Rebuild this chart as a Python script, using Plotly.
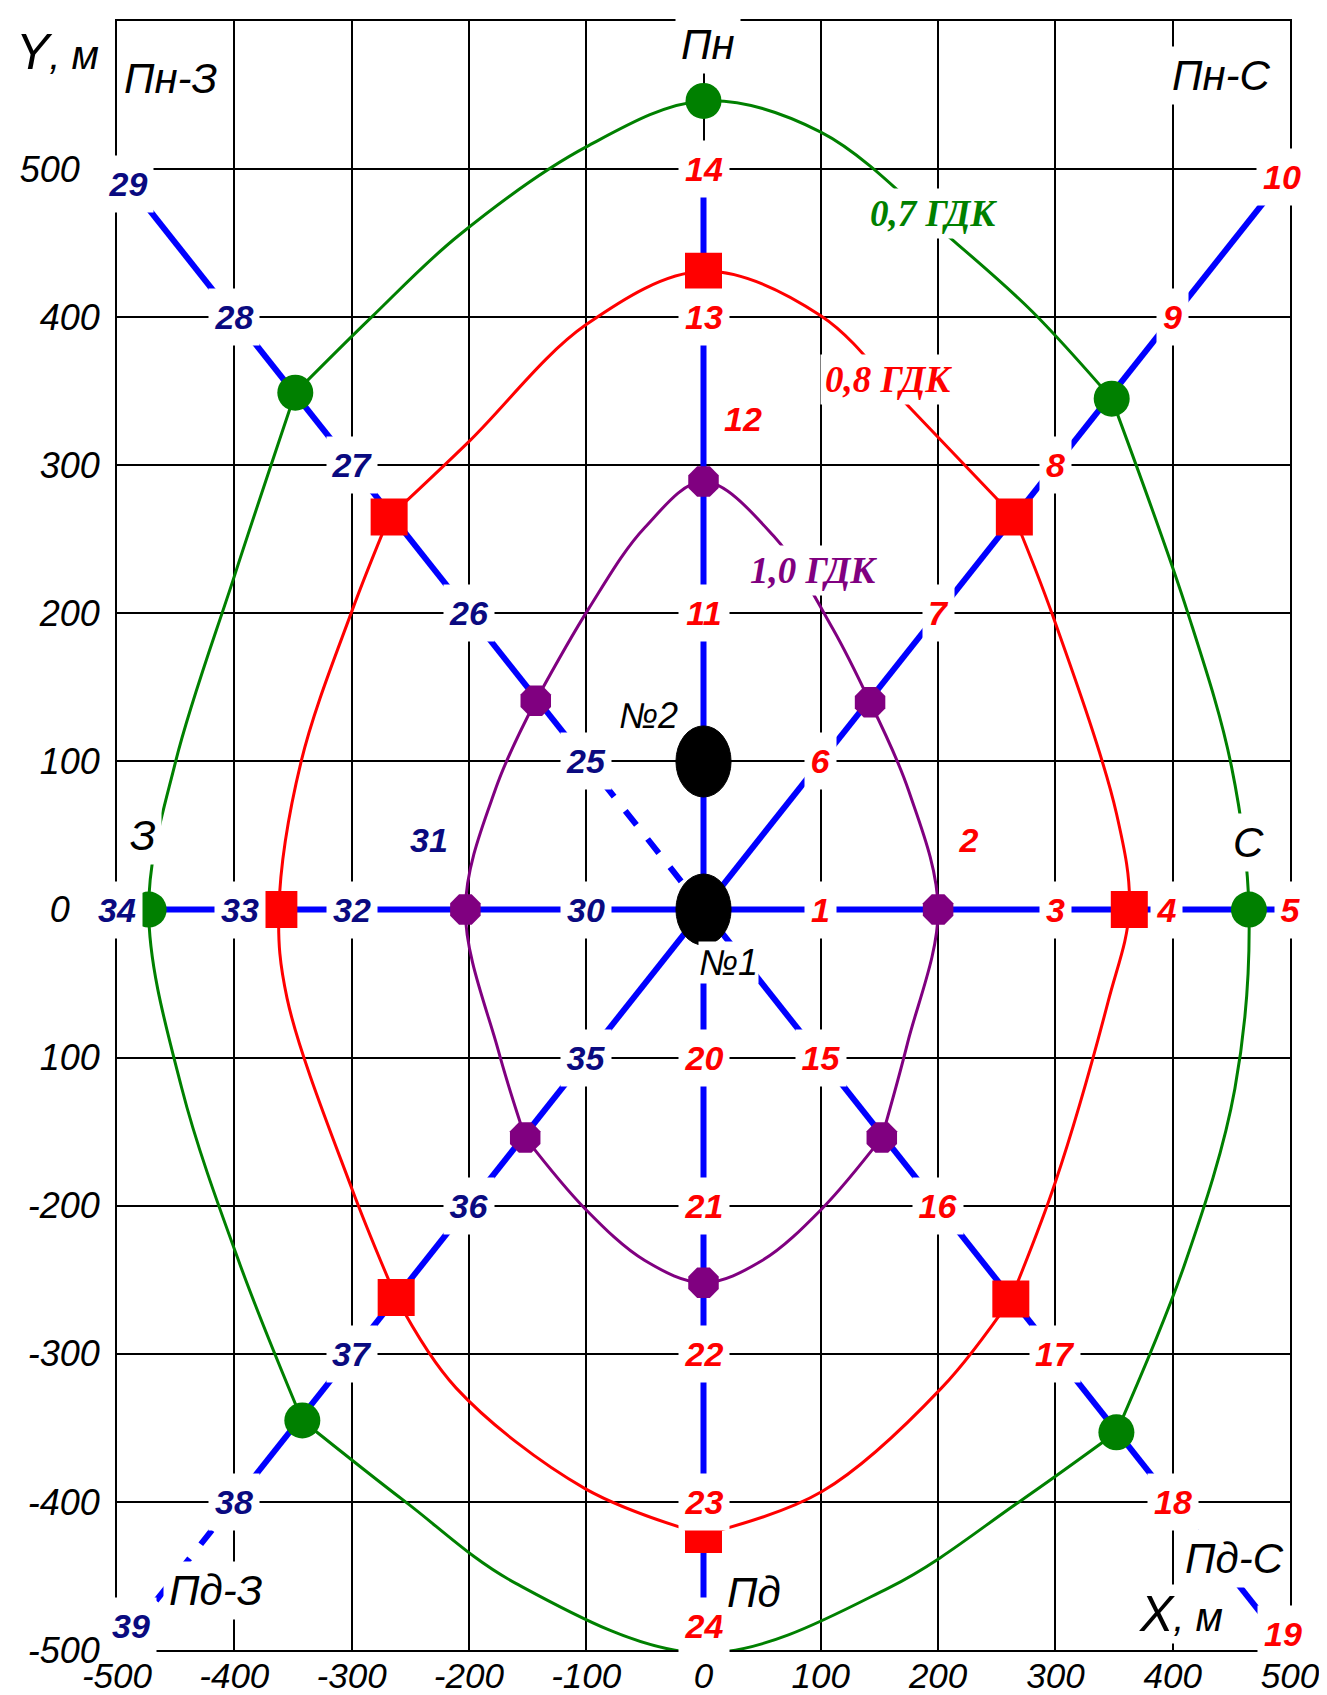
import plotly.graph_objects as go

# ---------------- data ----------------
x_ticks = [-500, -400, -300, -200, -100, 0, 100, 200, 300, 400, 500]
x_tick_text = ["-500", "-400", "-300", "-200", "-100", "0", "100", "200", "300", "400", "500"]
y_ticks = [-500, -400, -300, -200, -100, 0, 100, 200, 300, 400, 500]
y_tick_text = ["-500", "-400", "-300", "-200", "100", "0\u00a0\u00a0\u00a0", "100", "200", "300", "400", "500\u00a0\u00a0"]

# sampling rays from well No1 (direction, numbered points, offset of points)
ray_dir_x = [1, 1, 0, 1, 0, -1, -1, -1]
ray_dir_y = [0, 1, 1, -1, -1, 1, 0, -1]
ray_length = [500, 500, 500, 500, 500, 500, 500, 500]
ray_numbers = [[1, 2, 3, 4, 5], [6, 7, 8, 9, 10], [11, 12, 13, 14], [15, 16, 17, 18, 19],
               [20, 21, 22, 23, 24], [25, 26, 27, 28, 29], [30, 31, 32, 33, 34], [35, 36, 37, 38, 39]]
ray_dists = [[100, 200, 300, 400, 500], [100, 200, 300, 400, 500], [200, 300, 400, 500],
             [100, 200, 300, 400, 500], [100, 200, 300, 400, 500], [100, 200, 300, 400, 500],
             [100, 200, 300, 400, 500], [100, 200, 300, 400, 500]]
# dashed pieces of rays: (ray index, from, to)
ray_dashed = [(5, 0, 100), (7, 400, 500)]
# label displacement from its point (data units)
label_shift = {2: (26, 47), 12: (34, 31), 31: (-34, 47), 10: (-7, -5), 19: (-6, 11),
               29: (9, -10), 39: (12, 16), 24: (0, 16), 4: (-5, 0), 33: (5, 0)}

# wells
well_x = [0, 0]
well_y = [0, 100]
well_names = ["№1", "№2"]
well_label_x = [21, -47]
well_label_y = [-36, 131]

# isolines: marker points (on rays)
green_x = [0, 348, 465, 352, 0, -342, -473, -348]
green_y = [546, 345, 0, -353, -502, -345, 0, 349]
red_x = [0, 265, 363, 262, 0, -262, -362, -268]
red_y = [431, 265, 0, -263, -422, -262, 0, 265]
purple_x = [0, 142, 200, 152, 0, -152, -203, -143]
purple_y = [289, 140, 0, -154, -252, -154, 0, 141]

# isolines, as arcs between markers
green_arcs = [
    [(-348, 349), (-283, 400), (-209, 455), (-100, 515), (0, 546), (100, 525), (211, 453), (280, 404), (348, 345)],
    [(348, 345), (413, 200), (450, 97), (465, 0), (453, -121), (410, -240), (352, -353)],
    [(352, -353), (269, -400), (158, -458), (0, -502), (-160, -455), (-254, -400), (-342, -345)],
    [(-342, -345), (-395, -240), (-445, -120), (-473, 0), (-450, 100), (-400, 225), (-348, 349)],
]
red_arcs = [
    [(-268, 265), (-200, 316), (-100, 395), (0, 431), (100, 401), (177, 338), (265, 265)],
    [(265, 265), (297, 200), (352, 65), (363, 0), (345, -62), (300, -184), (262, -263)],
    [(262, -263), (203, -323), (101, -393), (0, -422)],
    [(0, -422), (-101, -391), (-211, -323), (-262, -262)],
    [(-262, -262), (-300, -188), (-355, -60), (-362, 0), (-343, 100), (-300, 201), (-268, 265)],
]
purple_arcs = [
    [(-143, 141), (-98, 203), (-50, 258), (0, 289), (60, 252), (110, 190), (142, 140)],
    [(142, 140), (175, 80), (200, 0), (174, -90), (152, -154)],
    [(152, -154), (101, -202), (50, -237), (0, -252), (-50, -237), (-101, -202), (-152, -154)],
    [(-152, -154), (-175, -95), (-203, 0), (-177, 82), (-143, 141)],
]

curve_labels = ["0,7 ГДК", "0,8 ГДК", "1,0 ГДК"]
curve_label_x = [196, 158, 94]
curve_label_y = [470, 358, 229]

dir_labels = ["Пн", "Пн-З", "Пн-С", "З", "С", "Пд", "Пд-З", "Пд-С"]
dir_label_x = [4, -454, 442, -478, 465, 43, -416, 453]
dir_label_y = [584, 561, 563, 50, 45, -461, -460, -438]

# ---------------- styling ----------------
BLUE = "#0000FF"
RED = "#FF0000"
NAVY = "#0A0A80"
GREEN = "#008000"
PURPLE = "#800080"
SANS = "Liberation Sans, Arial, sans-serif"
SERIF = "Liberation Serif, Times New Roman, serif"

fig = go.Figure()

# rays
for i in range(len(ray_dir_x)):
    dashed = [(a, b) for (r, a, b) in ray_dashed if r == i]
    cuts = sorted(set([0] + [v for ab in dashed for v in ab] + [ray_length[i]]))
    for a, b in zip(cuts[:-1], cuts[1:]):
        is_dash = any(a >= d0 and b <= d1 for d0, d1 in dashed)
        fig.add_trace(go.Scatter(
            x=[ray_dir_x[i] * a, ray_dir_x[i] * b], y=[ray_dir_y[i] * a, ray_dir_y[i] * b],
            mode="lines", line=dict(color=BLUE, width=6, dash="dash" if is_dash else "solid"),
            hoverinfo="skip", showlegend=False))

# isolines
for arcs, col in [(green_arcs, GREEN), (red_arcs, RED), (purple_arcs, PURPLE)]:
    for arc in arcs:
        fig.add_trace(go.Scatter(x=[p[0] for p in arc], y=[p[1] for p in arc], mode="lines",
                                 line=dict(color=col, width=3, shape="spline", smoothing=1.0),
                                 hoverinfo="skip", showlegend=False))

fig.add_trace(go.Scatter(x=green_x, y=green_y, mode="markers",
                         marker=dict(symbol="circle", size=36, color=GREEN), showlegend=False))
fig.add_trace(go.Scatter(x=red_x, y=red_y, mode="markers",
                         marker=dict(symbol="square", size=37, color=RED), showlegend=False))
fig.add_trace(go.Scatter(x=purple_x, y=purple_y, mode="markers",
                         marker=dict(symbol="octagon", size=33, color=PURPLE), showlegend=False))

# wells as ellipses in data units
WELL_RX, WELL_RY = 23.5, 24
for wx, wy in zip(well_x, well_y):
    fig.add_shape(type="circle", xref="x", yref="y", x0=wx - WELL_RX, x1=wx + WELL_RX,
                  y0=wy - WELL_RY, y1=wy + WELL_RY, fillcolor="black",
                  line=dict(color="black", width=1), layer="above")

annotations = []
# point labels
for i in range(len(ray_dir_x)):
    col = RED if i < 5 else NAVY
    for num, d in zip(ray_numbers[i], ray_dists[i]):
        sx, sy = label_shift.get(num, (0, 0))
        txt = str(num)
        annotations.append(dict(
            x=ray_dir_x[i] * d + sx, y=ray_dir_y[i] * d + sy, xref="x", yref="y", text=txt,
            showarrow=False, bgcolor="white", borderpad=3, width=19 * len(txt) + 6, height=50,
            font=dict(family=SANS, size=34, color=col, weight="bold", style="italic")))

for name, lx, ly in zip(well_names, well_label_x, well_label_y):
    annotations.append(dict(x=lx, y=ly, xref="x", yref="y", text=name, showarrow=False,
                            bgcolor="white", borderpad=0,
                            font=dict(family=SANS, size=36, color="black", style="italic")))

for txt, lx, ly, col in zip(curve_labels, curve_label_x, curve_label_y, [GREEN, RED, PURPLE]):
    annotations.append(dict(x=lx, y=ly, xref="x", yref="y", text=txt, showarrow=False,
                            bgcolor="white", borderpad=4,
                            font=dict(family=SERIF, size=37, color=col, weight="bold", style="italic")))

for txt, lx, ly in zip(dir_labels, dir_label_x, dir_label_y):
    annotations.append(dict(x=lx, y=ly, xref="x", yref="y", text=txt, showarrow=False,
                            bgcolor="white", borderpad=5,
                            font=dict(family=SANS, size=42, color="black", style="italic")))

# axis titles
annotations.append(dict(x=407, y=-476, xref="x", yref="y", showarrow=False, bgcolor="white",
                        text="<span style='font-size:50px'>X</span>, м",
                        font=dict(family=SANS, size=40, color="black", style="italic")))
annotations.append(dict(x=-0.051, y=0.981, xref="paper", yref="paper", showarrow=False,
                        xanchor="center", yanchor="middle",
                        text="<span style='font-size:50px'>Y</span>, м",
                        font=dict(family=SANS, size=40, color="black", style="italic")))

fig.update_layout(
    width=1327, height=1695,
    margin=dict(l=109, r=45, t=13, b=53),
    paper_bgcolor="white", plot_bgcolor="white",
    showlegend=False,
    annotations=annotations,
    xaxis=dict(range=[-500, 500], tickvals=x_ticks, ticktext=x_tick_text, showgrid=True,
               gridcolor="black", gridwidth=2, zeroline=False, showline=True, mirror=True,
               linecolor="black", linewidth=2, ticks="", ticklabelstandoff=-6,
               tickfont=dict(family=SANS, size=35, color="black", style="italic"),
               automargin=False, fixedrange=True),
    yaxis=dict(range=[-500, 600], tickvals=y_ticks, ticktext=y_tick_text, showgrid=True,
               gridcolor="black", gridwidth=2, zeroline=False, showline=True, mirror=True,
               linecolor="black", linewidth=2, ticks="", ticklabelstandoff=8,
               tickfont=dict(family=SANS, size=36, color="black", style="italic"),
               automargin=False, fixedrange=True),
)

fig.write_html("out.html")
